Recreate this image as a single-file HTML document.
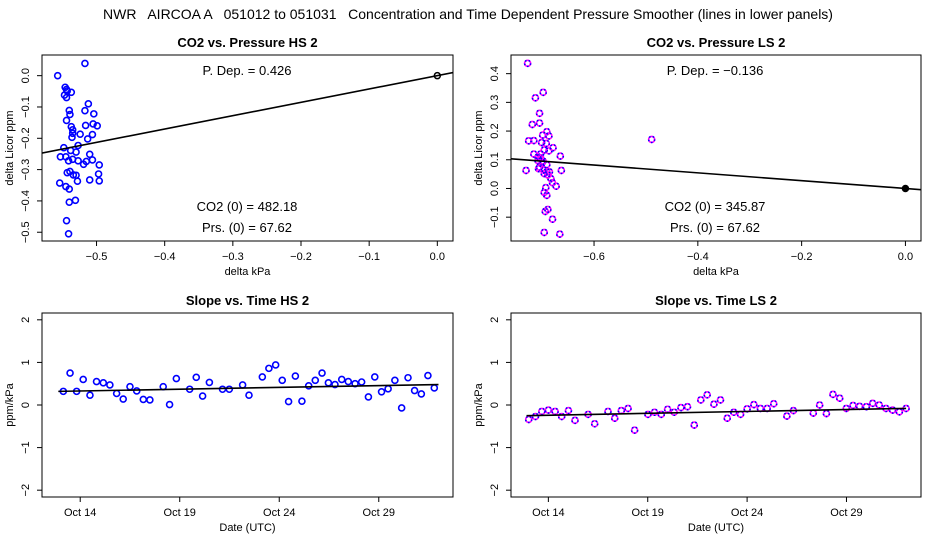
<!DOCTYPE html>
<html><head><meta charset="utf-8"><style>
body{margin:0;background:#fff}
svg{display:block;font-family:"Liberation Sans",sans-serif}
</style></head><body>
<svg id="chart" width="936" height="540" viewBox="0 0 936 540" xmlns="http://www.w3.org/2000/svg">
<rect width="936" height="540" fill="#fff"/>
<text x="468" y="19" font-size="14" text-anchor="middle" xml:space="preserve">NWR   AIRCOA A   051012 to 051031   Concentration and Time Dependent Pressure Smoother (lines in lower panels)</text>
</svg>
<script>
const hsPx=[-0.557,-0.517,-0.546,-0.544,-0.543,-0.537,-0.547,-0.544,-0.540,-0.539,-0.544,-0.537,-0.535,-0.535,-0.536,-0.524,-0.512,-0.517,-0.504,-0.516,-0.505,-0.499,-0.513,-0.506,-0.527,-0.548,-0.553,-0.545,-0.541,-0.538,-0.530,-0.527,-0.535,-0.519,-0.515,-0.510,-0.506,-0.496,-0.543,-0.539,-0.534,-0.530,-0.528,-0.510,-0.497,-0.496,-0.554,-0.545,-0.540,-0.540,-0.531,-0.544,-0.541];
const hsPy=[0,0.039,-0.037,-0.044,-0.049,-0.053,-0.062,-0.070,-0.111,-0.124,-0.143,-0.163,-0.173,-0.184,-0.197,-0.187,-0.090,-0.112,-0.122,-0.159,-0.154,-0.160,-0.202,-0.188,-0.223,-0.230,-0.259,-0.259,-0.272,-0.239,-0.244,-0.272,-0.267,-0.283,-0.274,-0.251,-0.269,-0.285,-0.310,-0.306,-0.317,-0.318,-0.337,-0.333,-0.314,-0.336,-0.343,-0.354,-0.362,-0.404,-0.398,-0.463,-0.505];
const lsPx=[-0.728,-0.698,-0.713,-0.705,-0.705,-0.719,-0.691,-0.699,-0.687,-0.726,-0.716,-0.701,-0.692,-0.679,-0.665,-0.716,-0.708,-0.703,-0.696,-0.687,-0.708,-0.700,-0.691,-0.705,-0.697,-0.686,-0.663,-0.731,-0.707,-0.696,-0.689,-0.683,-0.680,-0.673,-0.693,-0.696,-0.691,-0.689,-0.694,-0.680,-0.696,-0.666,-0.489,-0.703,-0.698,-0.691];
const lsPy=[0.436,0.335,0.316,0.262,0.228,0.223,0.198,0.186,0.183,0.166,0.167,0.160,0.157,0.142,0.113,0.120,0.110,0.107,0.134,0.131,0.097,0.090,0.083,0.074,0.064,0.058,0.063,0.063,0.069,0.052,0.047,0.034,0.020,0.008,0.003,-0.014,-0.024,-0.073,-0.080,-0.107,-0.153,-0.159,0.171,0.120,0.095,0.058];
const hsSlope=0.426, lsSlope=-0.136;
const hsTx=[13.15,13.49,13.82,14.15,14.49,14.82,15.16,15.49,15.83,16.16,16.50,16.84,17.17,17.50,18.17,18.49,18.83,19.50,19.83,20.15,20.49,21.15,21.49,22.16,22.48,23.15,23.48,23.82,24.15,24.47,24.81,25.14,25.48,25.81,26.15,26.47,26.80,27.14,27.47,27.81,28.14,28.48,28.80,29.14,29.47,29.81,30.15,30.47,30.80,31.14,31.47,31.79];
const hsTy=[0.32,0.75,0.32,0.6,0.23,0.55,0.52,0.47,0.27,0.14,0.43,0.33,0.13,0.12,0.43,0.01,0.62,0.37,0.65,0.21,0.53,0.37,0.37,0.47,0.23,0.66,0.86,0.94,0.58,0.08,0.68,0.09,0.45,0.58,0.75,0.52,0.48,0.6,0.55,0.5,0.54,0.19,0.66,0.31,0.38,0.58,-0.07,0.64,0.34,0.26,0.69,0.4];
const lsTx=[13.01,13.35,13.67,14.00,14.34,14.67,15.01,15.34,16.00,16.33,17.00,17.34,17.67,18.01,18.34,19.01,19.34,19.68,20.00,20.33,20.67,21.00,21.34,21.67,21.99,22.33,22.66,23.00,23.33,23.67,24.00,24.34,24.67,25.01,25.34,26.00,26.33,27.33,27.65,27.99,28.32,28.66,28.99,29.33,29.66,30.00,30.32,30.65,30.99,31.32,31.66,32.00];
const lsTy=[-0.34,-0.27,-0.15,-0.12,-0.15,-0.27,-0.13,-0.36,-0.22,-0.44,-0.15,-0.31,-0.13,-0.08,-0.59,-0.22,-0.17,-0.22,-0.1,-0.17,-0.06,-0.04,-0.47,0.12,0.24,0.02,0.12,-0.31,-0.17,-0.22,-0.09,0.01,-0.08,-0.08,0.03,-0.26,-0.13,-0.19,0,-0.2,0.25,0.16,-0.08,-0.01,-0.03,-0.04,0.04,0,-0.08,-0.12,-0.16,-0.08];
const hsSmX=[12.9,32.0], hsSmY=[0.32,0.48];
const lsSmX=[12.9,32.0], lsSmY=[-0.25,-0.08];
const xTicksP1=[-0.5,-0.4,-0.3,-0.2,-0.1,0.0], yTicksP1=[0.0,-0.1,-0.2,-0.3,-0.4,-0.5];
const xTicksP2=[-0.6,-0.4,-0.2,0.0], yTicksP2=[0.4,0.3,0.2,0.1,0.0,-0.1];
const dateTicks=[14,19,24,29], dateLabels=["Oct 14","Oct 19","Oct 24","Oct 29"], yTicksT=[2,1,0,-1,-2];

const svg=document.getElementById('chart');const NS='http://www.w3.org/2000/svg';
function mk(t,a,p){const e=document.createElementNS(NS,t);for(const k in a)e.setAttribute(k,a[k]);(p||svg).appendChild(e);return e;}
function fmt(v,d){return (v<0?'\u2212':'')+Math.abs(v).toFixed(d);}
function panel(o){
  const g=mk('g',{});
  
  
  const sx=v=>o.L+(v-o.x0)/(o.x1-o.x0)*(o.R-o.L);
  const sy=v=>o.B-(v-o.y0)/(o.y1-o.y0)*(o.B-o.T);
  const fr=mk('rect',{x:o.L,y:o.T,width:o.R-o.L,height:o.B-o.T,fill:'none',stroke:'#000','stroke-width':1},g);
  
  
  const ti=mk('text',{x:(o.L+o.R)/2,y:o.T-8,'font-size':13,'font-weight':'bold','text-anchor':'middle'},g);ti.textContent=o.title;
  
  
  o.xt.forEach((v,i)=>{const x=sx(v);mk('line',{x1:x,x2:x,y1:o.B,y2:o.B+5,stroke:'#000'},g);
    const t=mk('text',{x:x,y:o.B+19,'font-size':11,'text-anchor':'middle'},g);t.textContent=o.xl?o.xl[i]:fmt(v,1);
    
    });
  o.yt.forEach(v=>{const y=sy(v);mk('line',{x1:o.L-5,x2:o.L,y1:y,y2:y,stroke:'#000'},g);
    const t=mk('text',{x:o.L-13,y:y,'font-size':11,'text-anchor':'middle',transform:`rotate(-90 ${o.L-13} ${y})`},g);t.textContent=o.yd===0?fmt(v,0):fmt(v,1);
    
    });
  const xa=mk('text',{x:(o.L+o.R)/2,y:o.B+34,'font-size':11,'text-anchor':'middle'},g);xa.textContent=o.xlab;
  
  
  const ya=mk('text',{x:o.L-29,y:(o.T+o.B)/2,'font-size':11,'text-anchor':'middle',transform:`rotate(-90 ${o.L-29} ${(o.T+o.B)/2})`},g);ya.textContent=o.ylab;
  
  
  const cp=mk('clipPath',{id:o.name+'-clip'},g);mk('rect',{x:o.L,y:o.T,width:o.R-o.L,height:o.B-o.T},cp);
  const pg=mk('g',{'clip-path':`url(#${o.name}-clip)`},g);
  o.px.forEach((v,i)=>{
    const c=mk('circle',{cx:sx(v),cy:sy(o.py[i]),r:3,fill:'none',stroke:o.ls?'#ff00ff':'#0000ff','stroke-width':1.6},pg);
    
    
    if(o.ls)mk('circle',{cx:sx(v),cy:sy(o.py[i]),r:3,fill:'none',stroke:'#0000ff','stroke-width':1.6,'stroke-dasharray':'1.5 2.2'},pg);
  });
  const ln=mk('line',{x1:sx(o.lx[0]),y1:sy(o.ly[0]),x2:sx(o.lx[1]),y2:sy(o.ly[1]),stroke:'#000','stroke-width':1.6},pg);
  
  
  if(o.origin){const c=mk('circle',{cx:sx(0),cy:sy(0),r:3,fill:o.ls?'#000':'none',stroke:'#000','stroke-width':1.5},pg);
    
    }
  (o.notes||[]).forEach(n=>{const t=mk('text',{x:n[0],y:n[1],'font-size':13,'text-anchor':'middle','xml:space':'preserve'},g);t.textContent=n[2];
    
    });
}
panel({name:'co2-vs-pressure-hs',title:'CO2 vs. Pressure HS 2',L:42,R:453,T:55,B:241,x0:-0.580,x1:0.023,y0:-0.528,y1:0.066,
  xt:xTicksP1,yt:yTicksP1,xlab:'delta kPa',ylab:'delta Licor ppm',px:hsPx,py:hsPy,
  lx:[-0.6,0.05],ly:[-0.6*hsSlope,0.05*hsSlope],origin:true,
  notes:[[247,75,'P. Dep. =  '+hsSlope.toFixed(3)],[247,211,'CO2 (0) =  482.18'],[247,232,'Prs. (0) =  67.62']]});
panel({name:'co2-vs-pressure-ls',title:'CO2 vs. Pressure LS 2',L:511,R:921,T:55,B:241,x0:-0.760,x1:0.030,y0:-0.183,y1:0.465,
  xt:xTicksP2,yt:yTicksP2,xlab:'delta kPa',ylab:'delta Licor ppm',px:lsPx,py:lsPy,ls:true,
  lx:[-0.8,0.05],ly:[-0.8*lsSlope,0.05*lsSlope],origin:true,
  notes:[[715,75,'P. Dep. =  '+fmt(lsSlope,3)],[715,211,'CO2 (0) =  345.87'],[715,232,'Prs. (0) =  67.62']]});
panel({name:'slope-vs-time-hs',title:'Slope vs. Time HS 2',L:42,R:453,T:313,B:497,x0:12.08,x1:32.73,y0:-2.16,y1:2.16,
  xt:dateTicks,xl:dateLabels,yt:yTicksT,yd:0,xlab:'Date (UTC)',ylab:'ppm/kPa',px:hsTx,py:hsTy,lx:hsSmX,ly:hsSmY});
panel({name:'slope-vs-time-ls',title:'Slope vs. Time LS 2',L:511,R:921,T:313,B:497,x0:12.12,x1:32.75,y0:-2.16,y1:2.16,
  xt:dateTicks,xl:dateLabels,yt:yTicksT,yd:0,xlab:'Date (UTC)',ylab:'ppm/kPa',px:lsTx,py:lsTy,ls:true,lx:lsSmX,ly:lsSmY});
</script>
</body></html>
